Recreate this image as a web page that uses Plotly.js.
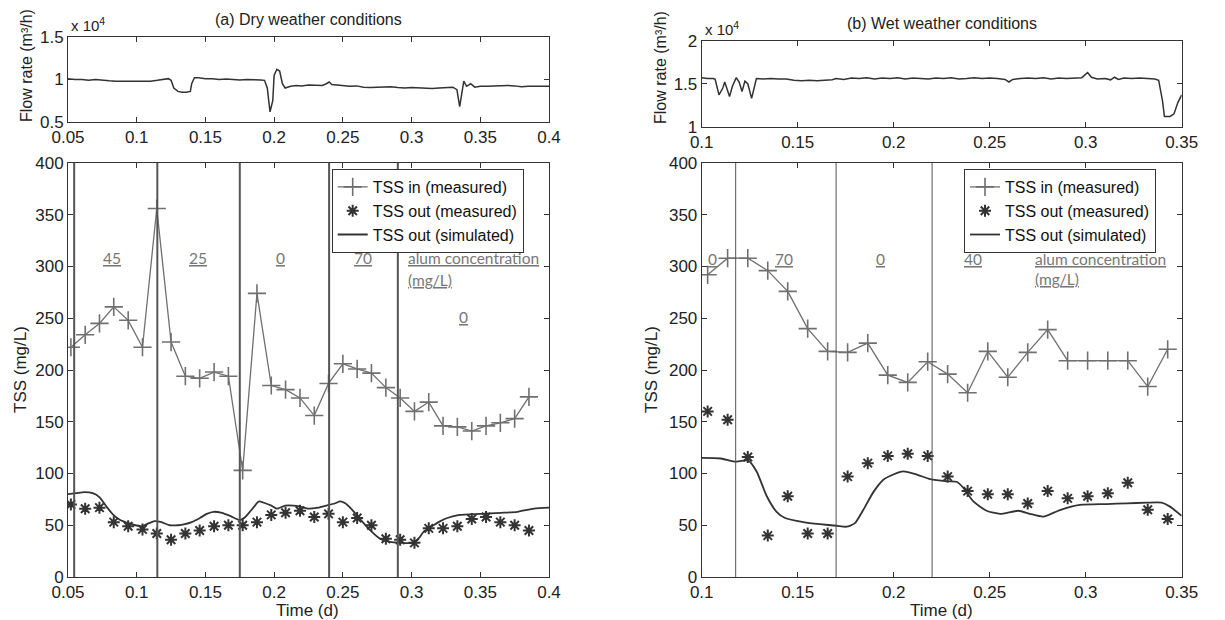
<!DOCTYPE html>
<html>
<head>
<meta charset="utf-8">
<script src="https://cdn.plot.ly/plotly-3.0.1.min.js"></script>
<style>html,body{margin:0;padding:0;background:#fff;}#chart{width:1225px;height:620px;}</style>
</head>
<body>
<div id="chart"></div>
<script>
// ---------------- DATA ----------------
// (a) Dry weather: flow rate (x 10^4 m3/h)
const flowDryT = [0.050,0.055,0.060,0.065,0.070,0.075,0.080,0.085,0.090,0.095,0.100,0.105,0.110,0.115,0.120,0.123,0.125,0.127,0.130,0.133,0.136,0.139,0.140,0.142,0.145,0.150,0.155,0.160,0.165,0.170,0.175,0.180,0.185,0.190,0.193,0.195,0.197,0.199,0.200,0.202,0.204,0.206,0.208,0.212,0.216,0.220,0.225,0.230,0.235,0.238,0.240,0.242,0.248,0.255,0.260,0.265,0.270,0.275,0.280,0.285,0.290,0.295,0.300,0.305,0.310,0.315,0.320,0.325,0.330,0.333,0.335,0.337,0.338,0.340,0.343,0.346,0.350,0.355,0.360,0.365,0.370,0.375,0.380,0.385,0.390,0.395,0.400];
const flowDry = [1.01,1.00,1.00,0.99,1.00,0.99,0.985,0.98,0.98,0.975,0.98,0.975,0.98,0.99,1.00,1.01,0.99,0.90,0.86,0.85,0.85,0.86,0.95,1.02,1.02,1.01,1.01,1.00,1.005,1.00,0.995,1.00,1.00,0.995,0.99,0.90,0.62,0.75,1.05,1.12,1.10,0.95,0.90,0.92,0.93,0.925,0.935,0.93,0.93,0.95,0.97,0.94,0.93,0.92,0.925,0.91,0.905,0.91,0.91,0.915,0.905,0.90,0.905,0.90,0.90,0.895,0.90,0.905,0.91,0.88,0.68,0.88,0.98,0.92,0.95,0.91,0.92,0.92,0.925,0.93,0.93,0.925,0.915,0.92,0.92,0.925,0.92];

// (b) Wet weather: flow rate (x 10^4 m3/h)
const flowWetT = [0.100,0.103,0.106,0.107,0.109,0.111,0.112,0.1135,0.1145,0.116,0.118,0.1195,0.121,0.1225,0.124,0.126,0.1285,0.132,0.136,0.140,0.144,0.148,0.152,0.156,0.160,0.164,0.168,0.170,0.174,0.178,0.182,0.186,0.190,0.194,0.198,0.202,0.206,0.210,0.214,0.218,0.222,0.226,0.230,0.234,0.238,0.242,0.246,0.250,0.254,0.258,0.260,0.262,0.266,0.270,0.274,0.278,0.282,0.286,0.290,0.294,0.298,0.301,0.303,0.306,0.310,0.313,0.315,0.317,0.320,0.324,0.328,0.332,0.336,0.338,0.340,0.341,0.344,0.346,0.348,0.350];
const flowWet = [1.57,1.56,1.56,1.55,1.37,1.45,1.52,1.42,1.35,1.47,1.57,1.52,1.41,1.53,1.50,1.33,1.56,1.555,1.56,1.555,1.555,1.54,1.535,1.54,1.535,1.54,1.545,1.56,1.55,1.565,1.56,1.57,1.555,1.565,1.56,1.57,1.555,1.565,1.56,1.555,1.565,1.56,1.57,1.555,1.56,1.57,1.56,1.565,1.56,1.55,1.52,1.55,1.56,1.565,1.56,1.57,1.555,1.565,1.56,1.565,1.57,1.63,1.575,1.555,1.56,1.545,1.575,1.55,1.565,1.56,1.565,1.56,1.555,1.54,1.30,1.12,1.12,1.15,1.28,1.37];

// (a) Dry weather TSS (mg/L)
const tssDryT = [0.0521,0.0625,0.0729,0.0833,0.0938,0.1042,0.1146,0.1250,0.1354,0.1458,0.1563,0.1667,0.1771,0.1875,0.1979,0.2083,0.2188,0.2292,0.2396,0.2500,0.2604,0.2708,0.2813,0.2917,0.3021,0.3125,0.3229,0.3333,0.3438,0.3542,0.3646,0.3750,0.3854];
const tssInDry = [222,234,245,261,248,222,356,227,194,192,198,194,103,274,185,181,173,156,187,206,201,197,183,173,160,169,146,145,141,146,149,153,174];
const tssOutDry = [70,66,67,53,49,46,42,36,42,45,49,50,50,53,60,62,64,58,61,53,57,50,37,36,33,47,47,49,56,58,53,50,45];
const simDryT = [0.050,0.056,0.062,0.068,0.073,0.078,0.083,0.088,0.094,0.099,0.104,0.109,0.113,0.118,0.124,0.130,0.135,0.140,0.146,0.151,0.156,0.162,0.168,0.175,0.179,0.183,0.189,0.194,0.198,0.202,0.208,0.214,0.219,0.225,0.232,0.238,0.244,0.248,0.252,0.256,0.2625,0.270,0.277,0.284,0.292,0.301,0.305,0.309,0.316,0.321,0.326,0.335,0.350,0.365,0.377,0.389,0.400];
const simDry = [80,81,82,81,77,68,60,55,52,50,49,52,54,53,50,50,51,53,57,61,63,62,59,55,58,64,73,71,69,66,69,69,68,66,67,69,71,73,71,66,56,45,37,34,33,33,37,44,50,54,57,60,61,62,63,66,67];

// (b) Wet weather TSS (mg/L)
const tssWetT = [0.1031,0.1135,0.1240,0.1344,0.1448,0.1552,0.1656,0.1760,0.1865,0.1969,0.2073,0.2177,0.2281,0.2385,0.2490,0.2594,0.2698,0.2802,0.2906,0.3010,0.3115,0.3219,0.3323,0.3427];
const tssInWet = [292,308,308,296,276,240,218,217,226,195,188,208,196,178,218,193,217,239,209,209,209,209,184,220];
const tssOutWet = [160,152,116,40,78,42,42,97,110,117,119,117,97,83,80,80,71,83,76,78,81,91,65,56];
const simWetT = [0.100,0.110,0.117,0.1243,0.1286,0.1339,0.139,0.1434,0.153,0.1616,0.1703,0.1755,0.1798,0.1842,0.1894,0.1946,0.1998,0.205,0.212,0.219,0.2276,0.2328,0.2363,0.2415,0.2484,0.2554,0.2649,0.271,0.2779,0.2866,0.297,0.311,0.3214,0.3318,0.3396,0.3439,0.350];
const simWet = [115,114.5,111.5,112.5,102,78,63,57,53,51,49.5,48.6,52,65,82,94,99,102,99,94.5,92.5,92,86,73,64,61,64,61,58.3,64.7,69.6,70.5,71.2,71.8,71.8,68,59];

// Alum dosing change times (d) and doses (mg/L)
const alumChangeDry = [0.0545,0.115,0.175,0.24,0.29];
const alumChangeWet = [0.1177,0.17,0.22];
const alumDoseDry = ['45','25','0','70','0'];
const alumDoseWet = ['0','70','0','40'];

// Tick labels
const tickDryX = [0.05,0.1,0.15,0.2,0.25,0.3,0.35,0.4];
const tickDryXText = ['0.05','0.1','0.15','0.2','0.25','0.3','0.35','0.4'];
const tickWetX = [0.1,0.15,0.2,0.25,0.3,0.35];
const tickWetXText = ['0.1','0.15','0.2','0.25','0.3','0.35'];
const tickFlowDryY = [0.5,1,1.5];
const tickFlowDryYText = ['0.5','1','1.5'];
const tickFlowWetY = [1,1.5,2];
const tickFlowWetYText = ['1','1.5','2'];
const tickTssY = [0,50,100,150,200,250,300,350,400];
const tickTssYText = ['0','50','100','150','200','250','300','350','400'];

// ---------------- LAYOUT ----------------
const W = 1225, H = 620;
const px = v => v / W;
const py = v => 1 - v / H;
const FONT = "'Liberation Sans', Arial, sans-serif";
const AX = '#333';

function axis(extra) {
  return Object.assign({
    showline: true, mirror: 'ticks', linecolor: AX, linewidth: 1,
    ticks: 'inside', ticklen: 5, tickcolor: AX, tickwidth: 1,
    showgrid: false, zeroline: false, tickmode: 'array',
    tickfont: {family: FONT, size: 17, color: '#222'}, fixedrange: true
  }, extra);
}

const dxDom = [px(68), px(549)];
const wxDom = [px(701.7), px(1181.7)];
const tssDom = [py(577), py(163)];

const cIn = '#707070', cOut = '#333333';

const traces = [
  {x: flowDryT, y: flowDry, xaxis: 'x', yaxis: 'y', mode: 'lines', line: {color: '#333', width: 1.5}, showlegend: false},
  {x: flowWetT, y: flowWet, xaxis: 'x2', yaxis: 'y2', mode: 'lines', line: {color: '#333', width: 1.5}, showlegend: false},

  {x: tssDryT, y: tssInDry, xaxis: 'x3', yaxis: 'y3', mode: 'lines+markers', name: 'TSS in (measured)',
   line: {color: cIn, width: 1.3}, marker: {symbol: 'cross-thin-open', size: 13, color: cIn, line: {color: cIn, width: 1.6}}, legend: 'legend'},
  {x: tssDryT, y: tssOutDry, xaxis: 'x3', yaxis: 'y3', mode: 'markers', name: 'TSS out (measured)',
   marker: {symbol: 'asterisk-open', size: 10, color: cOut, line: {color: cOut, width: 2}}, legend: 'legend'},
  {x: simDryT, y: simDry, xaxis: 'x3', yaxis: 'y3', mode: 'lines', name: 'TSS out (simulated)',
   line: {color: cOut, width: 1.8, shape: 'spline', smoothing: 0.6}, legend: 'legend'},

  {x: tssWetT, y: tssInWet, xaxis: 'x4', yaxis: 'y4', mode: 'lines+markers', name: 'TSS in (measured)',
   line: {color: cIn, width: 1.3}, marker: {symbol: 'cross-thin-open', size: 13, color: cIn, line: {color: cIn, width: 1.6}}, legend: 'legend2'},
  {x: tssWetT, y: tssOutWet, xaxis: 'x4', yaxis: 'y4', mode: 'markers', name: 'TSS out (measured)',
   marker: {symbol: 'asterisk-open', size: 10, color: cOut, line: {color: cOut, width: 2}}, legend: 'legend2'},
  {x: simWetT, y: simWet, xaxis: 'x4', yaxis: 'y4', mode: 'lines', name: 'TSS out (simulated)',
   line: {color: cOut, width: 1.8, shape: 'spline', smoothing: 0.6}, legend: 'legend2'}
];

const shapes = [];
alumChangeDry.forEach(t => shapes.push({type: 'line', xref: 'x3', yref: 'y3 domain', x0: t, x1: t, y0: 0, y1: 1, line: {color: '#555', width: 2}}));
alumChangeWet.forEach(t => shapes.push({type: 'line', xref: 'x4', yref: 'y4 domain', x0: t, x1: t, y0: 0, y1: 1, line: {color: '#555', width: 1}}));

const labFont = {family: 'Lato, Carlito, sans-serif', size: 15.5, color: '#777'};
const dryLabX = [0.082, 0.1446, 0.2043, 0.2647, 0.338];
const dryLabY = [308, 308, 308, 308, 251];
const wetLabX = [0.1057, 0.1429, 0.1929, 0.2413];
const wetLabY = [307, 307, 307, 307];

const ann = [];
alumDoseDry.forEach((d, i) => ann.push({xref: 'x3', yref: 'y3', x: dryLabX[i], y: dryLabY[i], text: '<u>' + d + '</u>', showarrow: false, font: labFont, xanchor: 'center', yanchor: 'middle'}));
alumDoseWet.forEach((d, i) => ann.push({xref: 'x4', yref: 'y4', x: wetLabX[i], y: wetLabY[i], text: '<u>' + d + '</u>', showarrow: false, font: labFont, xanchor: 'center', yanchor: 'middle'}));
ann.push({xref: 'x3', yref: 'y3', x: 0.296, y: 308, text: '<u>alum concentration</u>', showarrow: false, font: labFont, xanchor: 'left', yanchor: 'middle'});
ann.push({xref: 'x3', yref: 'y3', x: 0.296, y: 287, text: '<u>(mg/L)</u>', showarrow: false, font: labFont, xanchor: 'left', yanchor: 'middle'});
ann.push({xref: 'x4', yref: 'y4', x: 0.2724, y: 307, text: '<u>alum concentration</u>', showarrow: false, font: labFont, xanchor: 'left', yanchor: 'middle'});
ann.push({xref: 'x4', yref: 'y4', x: 0.2724, y: 288, text: '<u>(mg/L)</u>', showarrow: false, font: labFont, xanchor: 'left', yanchor: 'middle'});

const tFont = {family: FONT, size: 16, color: '#222'};
const aFont = {family: FONT, size: 17, color: '#222'};
function paperText(x, y, text, font, opts) {
  return Object.assign({xref: 'paper', yref: 'paper', x: px(x), y: py(y), text: text, showarrow: false, font: font, xanchor: 'center', yanchor: 'middle'}, opts || {});
}
ann.push(paperText(308.5, 20, '(a) Dry weather conditions', tFont));
ann.push(paperText(941.7, 23, '(b) Wet weather conditions', tFont));
ann.push(paperText(69, 25, 'x 10<sup>4</sup>', {family: FONT, size: 15, color: '#222'}, {xanchor: 'left'}));
ann.push(paperText(703, 29, 'x 10<sup>4</sup>', {family: FONT, size: 15, color: '#222'}, {xanchor: 'left'}));
ann.push(paperText(26, 66, 'Flow rate (m³/h)', {family: FONT, size: 16, color: '#222'}, {textangle: -90}));
ann.push(paperText(661, 68, 'Flow rate (m³/h)', {family: FONT, size: 16, color: '#222'}, {textangle: -90}));
ann.push(paperText(20, 370, 'TSS (mg/L)', aFont, {textangle: -90}));
ann.push(paperText(651, 370, 'TSS (mg/L)', aFont, {textangle: -90}));
ann.push(paperText(307.5, 610, 'Time (d)', aFont));
ann.push(paperText(941.7, 610, 'Time (d)', aFont));

const legFont = {family: FONT, size: 16, color: '#111'};
const layout = {
  width: W, height: H,
  margin: {l: 0, r: 0, t: 0, b: 0},
  paper_bgcolor: '#fff', plot_bgcolor: '#fff',
  showlegend: true,
  xaxis: axis({domain: dxDom, range: [0.05, 0.4], anchor: 'y', tickvals: tickDryX, ticktext: tickDryXText}),
  yaxis: axis({domain: [py(122), py(37)], range: [0.5, 1.5], anchor: 'x', tickvals: tickFlowDryY, ticktext: tickFlowDryYText}),
  xaxis2: axis({domain: wxDom, range: [0.1, 0.35], anchor: 'y2', tickvals: tickWetX, ticktext: tickWetXText}),
  yaxis2: axis({domain: [py(126.7), py(40.7)], range: [1, 2], anchor: 'x2', tickvals: tickFlowWetY, ticktext: tickFlowWetYText}),
  xaxis3: axis({domain: dxDom, range: [0.05, 0.4], anchor: 'y3', tickvals: tickDryX, ticktext: tickDryXText}),
  yaxis3: axis({domain: tssDom, range: [0, 400], anchor: 'x3', tickvals: tickTssY, ticktext: tickTssYText}),
  xaxis4: axis({domain: wxDom, range: [0.1, 0.35], anchor: 'y4', tickvals: tickWetX, ticktext: tickWetXText}),
  yaxis4: axis({domain: tssDom, range: [0, 400], anchor: 'x4', tickvals: tickTssY, ticktext: tickTssYText}),
  legend: {x: px(331.7), y: py(169), xanchor: 'left', yanchor: 'top', bgcolor: '#fff', bordercolor: '#333', borderwidth: 1, font: legFont, tracegroupgap: 0},
  legend2: {x: px(964), y: py(169), xanchor: 'left', yanchor: 'top', bgcolor: '#fff', bordercolor: '#333', borderwidth: 1, font: legFont, tracegroupgap: 0},
  shapes: shapes,
  annotations: ann
};

Plotly.newPlot('chart', traces, layout, {staticPlot: true, displayModeBar: false});
</script>
</body>
</html>
